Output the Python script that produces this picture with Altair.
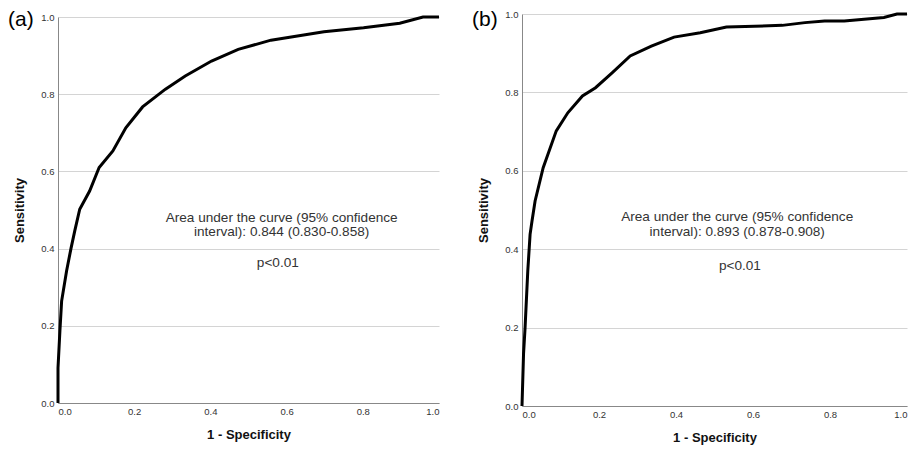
import altair as alt
import pandas as pd

# Panel (a) ROC curve
fpr_a = [0.0, 0.0, 0.005, 0.0095, 0.0225, 0.034, 0.044, 0.057, 0.083, 0.108, 0.144, 0.178,
         0.222, 0.282, 0.334, 0.403, 0.473, 0.559, 0.698, 0.802, 0.897, 0.958, 1.0]
sens_a = [0.0, 0.091, 0.187, 0.264, 0.342, 0.40, 0.446, 0.502, 0.549, 0.61, 0.653, 0.713,
          0.767, 0.813, 0.847, 0.886, 0.916, 0.940, 0.962, 0.972, 0.984, 1.0, 1.0]

# Panel (b) ROC curve
fpr_b = [0.0, 0.004, 0.008, 0.015, 0.021, 0.026, 0.034, 0.055, 0.089, 0.119, 0.157, 0.191,
         0.234, 0.281, 0.336, 0.395, 0.463, 0.531, 0.676, 0.735, 0.786, 0.837, 0.94, 0.974, 1.0]
sens_b = [0.0, 0.133, 0.20, 0.344, 0.438, 0.472, 0.523, 0.608, 0.702, 0.748, 0.791, 0.812,
          0.85, 0.893, 0.918, 0.941, 0.952, 0.967, 0.971, 0.978, 0.982, 0.982, 0.991, 1.0, 1.0]

ticks = [0.0, 0.2, 0.4, 0.6, 0.8, 1.0]
labels = ["(a)", "(b)"]
auc_text_a = ["Area under the curve (95% confidence", "interval): 0.844 (0.830-0.858)", "p<0.01"]
auc_text_b = ["Area under the curve (95% confidence", "interval): 0.893 (0.878-0.908)", "p<0.01"]
text_x_a = [0.587, 0.587, 0.577]
text_y_a = [0.479, 0.443, 0.363]
text_x_b = [0.559, 0.559, 0.566]
text_y_b = [0.482, 0.444, 0.357]

FONT = "Arial"


def panel(fpr, sens, label, texts, tx, ty, w, h, yrange, label_y):
    df = pd.DataFrame({"fpr": fpr, "sens": sens, "order": list(range(len(fpr)))})
    xaxis = alt.Axis(values=ticks, format=".1f", grid=False, ticks=False, domainColor="#888888",
                     labelFontSize=9.5, labelColor="#333333", labelPadding=3,
                     title="1 - Specificity", titleFontSize=13, titleFontWeight="bold",
                     titleColor="#111111", titlePadding=13, labelFont=FONT, titleFont=FONT)
    yaxis = alt.Axis(values=ticks, format=".1f", grid=True, gridColor="#d4d4d4", ticks=False,
                     domainColor="#888888", labelFontSize=9.5, labelColor="#333333", labelPadding=4,
                     title="Sensitivity", titleFontSize=13, titleFontWeight="bold",
                     titleColor="#111111", titlePadding=14, labelFont=FONT, titleFont=FONT)
    line = alt.Chart(df).mark_line(color="black", strokeWidth=3).encode(
        x=alt.X("fpr:Q", scale=alt.Scale(domain=[0, 1], nice=False), axis=xaxis),
        y=alt.Y("sens:Q", scale=alt.Scale(domain=[0, 1], nice=False, range=yrange), axis=yaxis),
        order="order:Q",
    )
    tdf = pd.DataFrame({"x": tx, "y": ty, "t": texts})
    txt = alt.Chart(tdf).mark_text(font=FONT, fontSize=13.6, color="#333333", align="center",
                                   baseline="middle").encode(
        x="x:Q", y="y:Q", text="t:N")
    ldf = pd.DataFrame({"t": [label]})
    lab = alt.Chart(ldf).mark_text(font=FONT, fontSize=21, color="black", align="left",
                                   baseline="middle").encode(
        x=alt.value(-50), y=alt.value(label_y), text="t:N")
    return alt.layer(line, txt, lab).properties(width=w, height=h)


pa = panel(fpr_a, sens_a, labels[0], auc_text_a, text_x_a, text_y_a, 381, 389, [389, 3], 6)
pb = panel(fpr_b, sens_b, labels[1], auc_text_b, text_x_b, text_y_b, 385, 392, [392, 0], 6)

chart = alt.hconcat(pa, pb, spacing=27).properties(padding=0).configure_view(stroke=None)

chart.save("out.html", embed_options={"renderer": "svg", "actions": False})
